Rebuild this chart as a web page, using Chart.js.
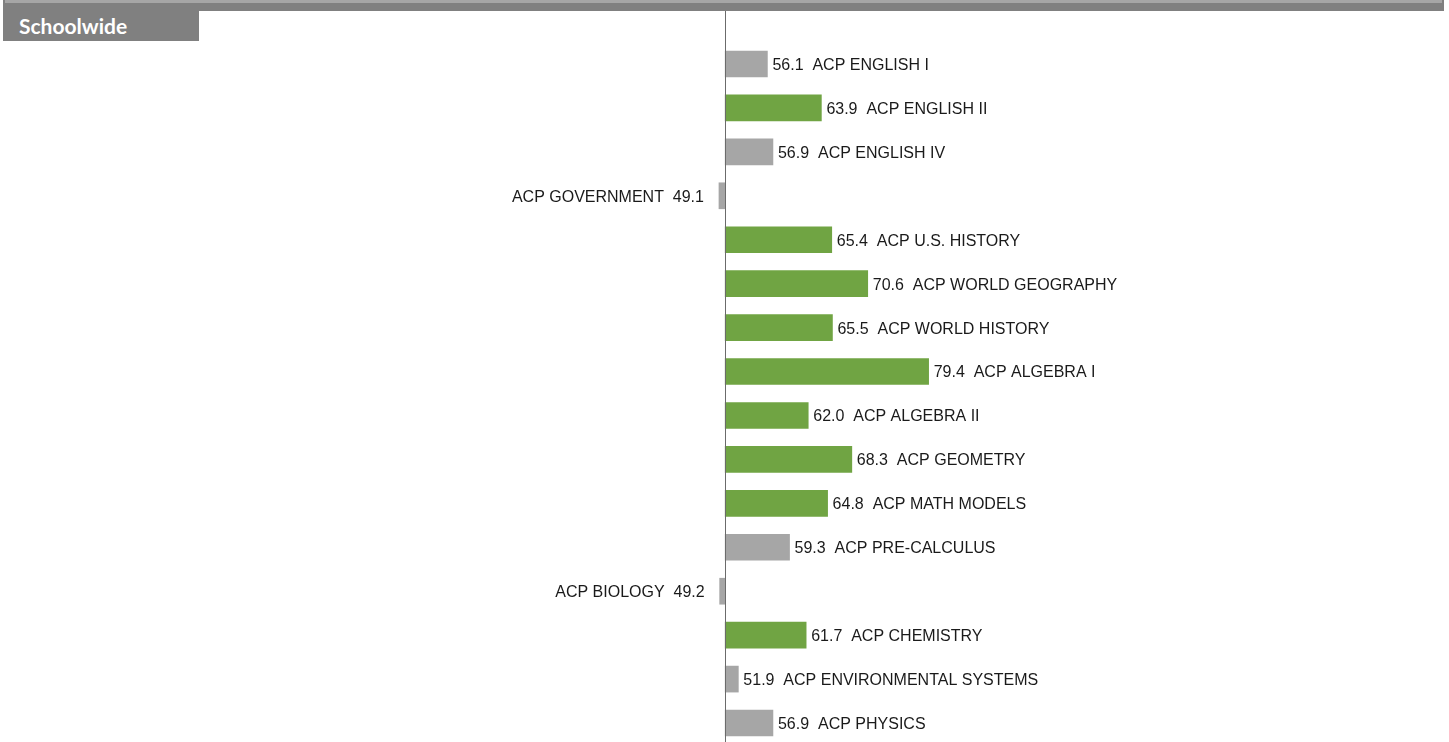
<!DOCTYPE html>
<html>
<head>
<meta charset="utf-8">
<script src="https://cdn.jsdelivr.net/npm/chart.js@4"></script>
<style>
  html, body { margin: 0; padding: 0; background: #fff; overflow: hidden; }
  body { width: 1449px; height: 742px; position: relative; }
  #topbar { position: absolute; left: 3px; top: 0; width: 1441px; height: 11px; background: #808080; z-index: 2; }
  #topbar div { position: absolute; left: 2px; top: 0; right: 2px; height: 3px; background: #a6a6a6; }
  #tab { position: absolute; left: 3px; top: 11px; width: 196px; height: 30px; background: #808080; z-index: 2;
         color: #fff; font: bold 21px Lato, "Open Sans", sans-serif; line-height: 30px; padding-left: 16px; box-sizing: border-box; }
  #chart { position: absolute; left: 0; top: 0; }
</style>
</head>
<body>
<div id="topbar"><div></div></div>
<div id="tab">Schoolwide</div>
<canvas id="chart" width="1449" height="745"></canvas>
<script>
const courses = [
    'ACP ENGLISH I', 'ACP ENGLISH II', 'ACP ENGLISH IV', 'ACP GOVERNMENT',
    'ACP U.S. HISTORY', 'ACP WORLD GEOGRAPHY', 'ACP WORLD HISTORY', 'ACP ALGEBRA I',
    'ACP ALGEBRA II', 'ACP GEOMETRY', 'ACP MATH MODELS', 'ACP PRE-CALCULUS',
    'ACP BIOLOGY', 'ACP CHEMISTRY', 'ACP ENVIRONMENTAL SYSTEMS', 'ACP PHYSICS'
];
const scores = [56.1, 63.9, 56.9, 49.1, 65.4, 70.6, 65.5, 79.4, 62.0, 68.3, 64.8, 59.3, 49.2, 61.7, 51.9, 56.9];
const baseline = 50;
const target = 60;

// bar labels: "value  name" right of the bar, "name  value" left of it when below baseline
const barLabels = {
    id: 'barLabels',
    afterDatasetsDraw(chart) {
        const ctx = chart.ctx;
        const meta = chart.getDatasetMeta(0);
        ctx.save();
        ctx.font = '16px "Liberation Sans", Arial, sans-serif';
        ctx.fillStyle = '#1a1a1a';
        ctx.textBaseline = 'middle';
        meta.data.forEach((bar, i) => {
            const v = scores[i];
            const y = bar.y + 1.5;
            if (v >= baseline) {
                ctx.textAlign = 'left';
                ctx.fillText(v.toFixed(1) + '  ' + courses[i], bar.x + 5, y);
            } else {
                ctx.textAlign = 'right';
                ctx.fillText(courses[i] + '  ' + v.toFixed(1), bar.x - 15, y);
            }
        });
        ctx.restore();
    }
};

// vertical line at the baseline value
const baseLine = {
    id: 'baseLine',
    afterDatasetsDraw(chart) {
        const ctx = chart.ctx;
        const x = Math.floor(chart.scales.x.getPixelForValue(baseline)) + 0.5;
        ctx.save();
        ctx.strokeStyle = '#6b6b6b';
        ctx.lineWidth = 1;
        ctx.beginPath();
        ctx.moveTo(x, 11);
        ctx.lineTo(x, chart.height);
        ctx.stroke();
        ctx.restore();
    }
};

new Chart(document.getElementById('chart'), {
    type: 'bar',
    data: {
        labels: courses,
        datasets: [{
            data: scores,
            base: baseline,
            backgroundColor: scores.map(v => v >= target ? '#70A443' : '#A6A6A6'),
            barThickness: 26,
            borderWidth: 0
        }]
    },
    options: {
        indexAxis: 'y',
        responsive: false,
        animation: false,
        layout: { padding: { top: 42, left: 0, right: 0, bottom: 0 } },
        scales: {
            x: { display: false, min: -54.8, max: 154.6 },
            y: { display: false }
        },
        plugins: {
            legend: { display: false },
            tooltip: { enabled: false }
        }
    },
    plugins: [barLabels, baseLine]
});
</script>
</body>
</html>
